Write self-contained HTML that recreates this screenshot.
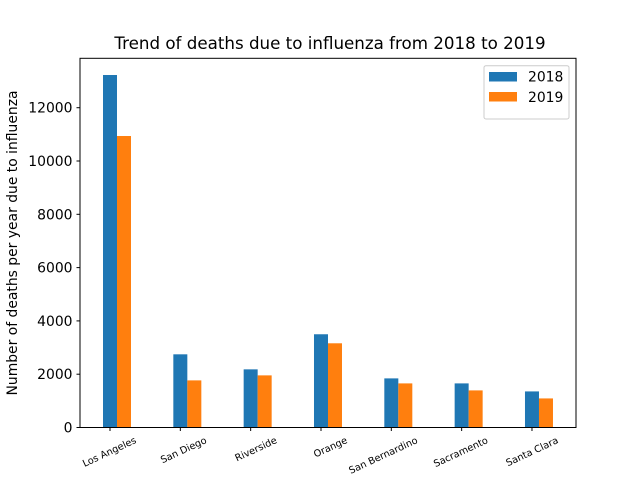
<!DOCTYPE html>
<html><head><meta charset="utf-8"><style>
body{margin:0;background:#fff}
svg text{font-family:"DejaVu Sans","Liberation Sans",sans-serif;fill:#000}
</style></head><body>
<svg width="640" height="480" viewBox="0 0 640 480">
<rect width="640" height="480" fill="#fff"/>
<text x="330" y="49" font-size="16.7" text-anchor="middle">Trend of deaths due to influenza from 2018 to 2019</text>
<g id="bars"></g>
<g id="yticks"></g>
<g id="xticks"></g>
<rect x="80" y="58.3" width="496" height="369.2" fill="none" stroke="#000" stroke-width="1"/>
<text transform="translate(17,243) rotate(-90)" font-size="13.9" text-anchor="middle">Number of deaths per year due to influenza</text>
<g>
<rect x="484" y="65.7" width="85" height="53.3" rx="2" fill="#fff" stroke="#ccc" stroke-width="1"/>
<rect x="489" y="72" width="28" height="9.5" fill="#1f77b4"/>
<text x="528" y="81.5" font-size="13.9">2018</text>
<rect x="489" y="92" width="28" height="9.5" fill="#ff7f0e"/>
<text x="528" y="102" font-size="13.9">2019</text>
</g>
</svg>
<script>
const categories=["Los Angeles","San Diego","Riverside","Orange","San Bernardino","Sacramento","Santa Clara"];
const values2018=[13227,2746,2182,3499,1843,1655,1354];
const values2019=[10938,1768,1956,3160,1655,1392,1091];
const yTicks=[0,2000,4000,6000,8000,10000,12000];
const NS="http://www.w3.org/2000/svg";
const y0=427.5,yTop=58.3,yMax=13854;
function yS(v){return y0-(v/yMax)*(y0-yTop);}
function xS(i){return 110+i*70.33;}
const bw=14;
const bars=document.getElementById('bars');
function mk(tag,attrs,parent){const e=document.createElementNS(NS,tag);for(const k in attrs)e.setAttribute(k,attrs[k]);parent.appendChild(e);return e;}
categories.forEach((c,i)=>{
  let r=mk('rect',{x:xS(i)-bw/2,y:yS(values2018[i]),width:bw,height:y0-yS(values2018[i]),fill:'#1f77b4'},bars);
  
  
  let r2=mk('rect',{x:xS(i)+bw/2,y:yS(values2019[i]),width:bw,height:y0-yS(values2019[i]),fill:'#ff7f0e'},bars);
  
  
  const xt=document.getElementById('xticks');
  let t=mk('line',{x1:xS(i),x2:xS(i),y1:y0,y2:y0+3.5,stroke:'#000','stroke-width':1},xt);
  
  
  let l=mk('text',{'font-size':9.7,'text-anchor':'end',transform:'translate('+(xS(i)+27)+','+(y0+15)+') rotate(-25)'},xt);
  l.textContent=c;
  
  
});
const yt=document.getElementById('yticks');
yTicks.forEach(v=>{
  let t=mk('line',{x1:76.5,x2:80,y1:yS(v),y2:yS(v),stroke:'#000','stroke-width':1},yt);
  
  
  let l=mk('text',{x:72.5,y:yS(v)+5,'font-size':13.9,'text-anchor':'end'},yt);
  l.textContent=v;
  
  
});
</script>
</body></html>
